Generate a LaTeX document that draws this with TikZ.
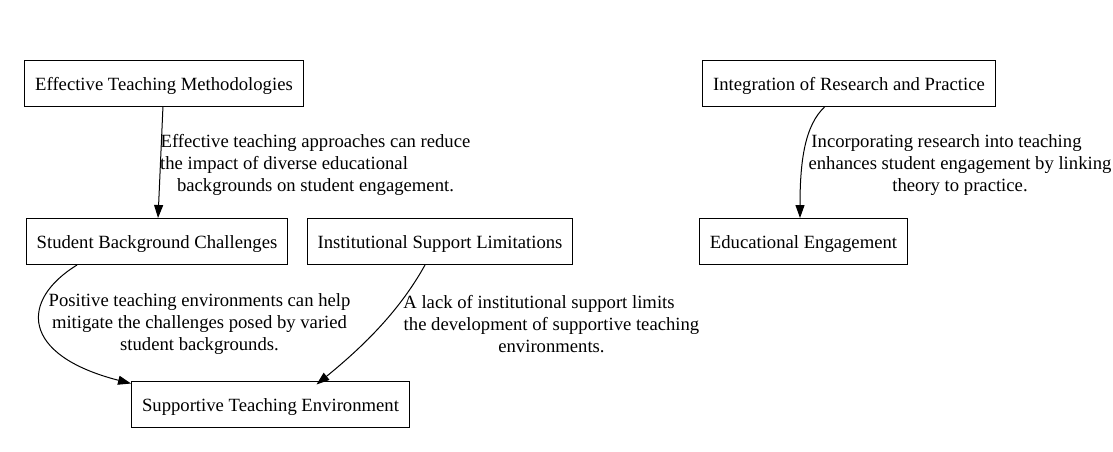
\documentclass[tikz,border=0pt]{standalone}
\usepackage{fontspec}
\setmainfont{Liberation Serif}
\usetikzlibrary{positioning,arrows.meta}

\begin{document}
\begin{tikzpicture}[
  x=1pt, y=-1pt,
  font=\fontsize{18.67}{22}\selectfont, >={Triangle[length=13pt,width=9pt]},
  concept/.style={draw,line width=1pt,minimum height=46pt,inner xsep=10.5pt,text height=18pt,text depth=4pt},
  elabel/.style={align=center,inner sep=0pt},
  link/.style={->,line width=1pt}
]
\useasboundingbox (0,0) rectangle (1113,451);
\node[concept] (etm) at (164,83) {Effective Teaching Methodologies};
\node[concept] (sbc) at (157,241.5) {Student Background Challenges};
\node[concept] (isl) at (440,241.5) {Institutional Support Limitations};
\node[concept] (ste) at (270.5,404) {Supportive Teaching Environment};
\node[concept] (irp) at (849,83) {Integration of Research and Practice};
\node[concept] (ee) at (803.5,241.5) {Educational Engagement};
\node[elabel] (l1) at (315.5,165) {Effective teaching approaches can reduce\\the impact of diverse educational\kern63pt\\backgrounds on student engagement.};
\node[elabel] (l2) at (199.5,324) {Positive teaching environments can help\\mitigate the challenges posed by varied\\student backgrounds.};
\node[elabel] (l3) at (551.5,324) {A lack of institutional support limits\kern25pt\\the development of supportive teaching\\environments.};
\node[elabel] (l4) at (960,165) {Incorporating research into teaching\kern27pt\\enhances student engagement by linking\\theory to practice.};
\draw[link] (etm) -- (sbc);
\draw[link] ([xshift=-80pt]sbc.south) .. controls (20,300) and (20,355) .. ([yshift=-3pt]ste.north west);
\draw[link] ([xshift=-15pt]isl.south) .. controls (400,310) and (365,345) .. ([xshift=46pt,yshift=-4pt]ste.north);
\draw[link] ([xshift=-24pt]irp.south) .. controls (805,125) and (800,160) .. ([xshift=-3.5pt]ee.north);
\end{tikzpicture}
\end{document}
